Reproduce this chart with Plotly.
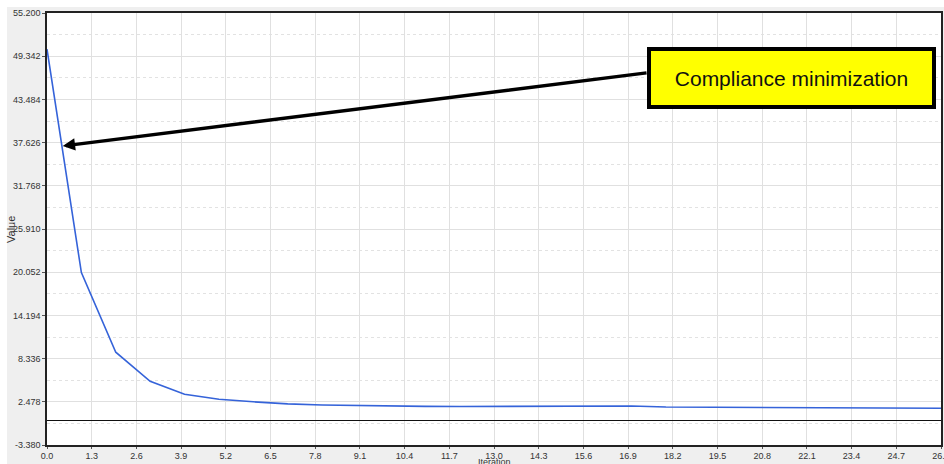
import numpy as np
import plotly.graph_objects as go

# ---- data ----
iterations = list(range(0, 27))
values = [50.3, 20.0, 9.2, 5.25, 3.5, 2.82, 2.48, 2.2, 2.05, 1.96, 1.9, 1.86,
          1.84, 1.84, 1.84, 1.9, 1.91, 1.91, 1.77, 1.74, 1.72, 1.70, 1.68,
          1.66, 1.64, 1.62, 1.60]

y_min, y_max, y_step = -3.38, 55.2, 5.858
x_min, x_max, x_step = 0.0, 26.0, 1.3
y_ticks = [round(y_min + y_step * i, 3) for i in range(11)]
y_tick_text = [f"{v:.3f}" for v in y_ticks]
x_ticks = [round(x_step * i, 1) for i in range(21)]
x_tick_text = [f"{v:.1f}" for v in x_ticks]

label_text = "Compliance minimization"
arrow_head = (0.457, 37.17)
arrow_tail = (17.48, 47.1)

W, H = 944, 464
ML, MR, MT, MB = 47, 3, 13, 19
PW, PH = W - ML - MR, H - MT - MB

def px2paper_x(px):
    return (px - ML) / PW

def px2paper_y(py):
    return (H - MB - py) / PH

fig = go.Figure()
fig.add_trace(go.Scatter(
    x=iterations, y=values, mode="lines",
    line=dict(color="#3563d9", width=1.6),
    hoverinfo="skip", showlegend=False,
))

tick_font = dict(family="Liberation Sans, Arial, sans-serif", size=9, color="#333333")

fig.update_layout(
    width=W, height=H,
    margin=dict(l=ML, r=MR, t=MT, b=MB, pad=0, autoexpand=False),
    paper_bgcolor="#efefef",
    plot_bgcolor="#ffffff",
    showlegend=False,
    xaxis=dict(
        range=[x_min, x_max], tickvals=x_ticks, ticktext=x_tick_text,
        showgrid=True, gridcolor="#e0e0e0", gridwidth=1,
        zeroline=False, showline=True, linecolor="#222222", linewidth=1.5,
        mirror=True, ticks="outside", ticklen=2, tickcolor="#555555",
        tickfont=tick_font, ticklabeloverflow="allow", ticklabelstandoff=-1,
        automargin=False,
    ),
    yaxis=dict(
        range=[y_min, y_max], tickvals=y_ticks, ticktext=y_tick_text,
        showgrid=True, gridcolor="#e0e0e0", gridwidth=1,
        zeroline=True, zerolinecolor="#111111", zerolinewidth=1,
        showline=True, linecolor="#222222", linewidth=1.5, mirror=True,
        ticks="outside", ticklen=3, tickcolor="#555555",
        tickfont=tick_font, ticklabeloverflow="allow", automargin=False,
        minor=dict(tick0=y_min, dtick=y_step / 2, showgrid=True,
                   griddash="dot", gridcolor="#e2e2e2", gridwidth=1),
    ),
    shapes=[
        dict(type="rect", xref="paper", yref="paper",
             x0=px2paper_x(-5), x1=px2paper_x(W + 5),
             y0=px2paper_y(7), y1=px2paper_y(-5),
             fillcolor="#ffffff", line=dict(width=0), layer="below"),
        dict(type="rect", xref="paper", yref="paper",
             x0=px2paper_x(-5), x1=px2paper_x(7),
             y0=px2paper_y(H + 5), y1=px2paper_y(-5),
             fillcolor="#ffffff", line=dict(width=0), layer="below"),
    ],
    annotations=[
        dict(text="Value", xref="paper", yref="paper",
             x=px2paper_x(11), y=px2paper_y(230), textangle=-90,
             showarrow=False, xanchor="center", yanchor="middle",
             font=dict(family="Liberation Sans, Arial, sans-serif", size=11, color="#333333")),
        dict(text="Iteration", xref="paper", yref="paper",
             x=0.5, y=px2paper_y(462), showarrow=False,
             xanchor="center", yanchor="middle",
             font=dict(family="Liberation Sans, Arial, sans-serif", size=9, color="#333333")),
        dict(text="", x=arrow_head[0], y=arrow_head[1], xref="x", yref="y",
             ax=arrow_tail[0], ay=arrow_tail[1], axref="x", ayref="y",
             showarrow=True, arrowhead=2, arrowsize=0.75, arrowwidth=3.3,
             arrowcolor="#000000"),
        dict(text=label_text, xref="paper", yref="paper",
             x=px2paper_x(791.5), y=px2paper_y(78),
             xanchor="center", yanchor="middle", showarrow=False,
             width=277, height=50, align="center", valign="middle",
             bgcolor="#ffff00", bordercolor="#000000", borderwidth=4, borderpad=2,
             font=dict(family="Liberation Sans, Arial, sans-serif", size=21, color="#111111")),
    ],
)

fig.write_html("out.html")
